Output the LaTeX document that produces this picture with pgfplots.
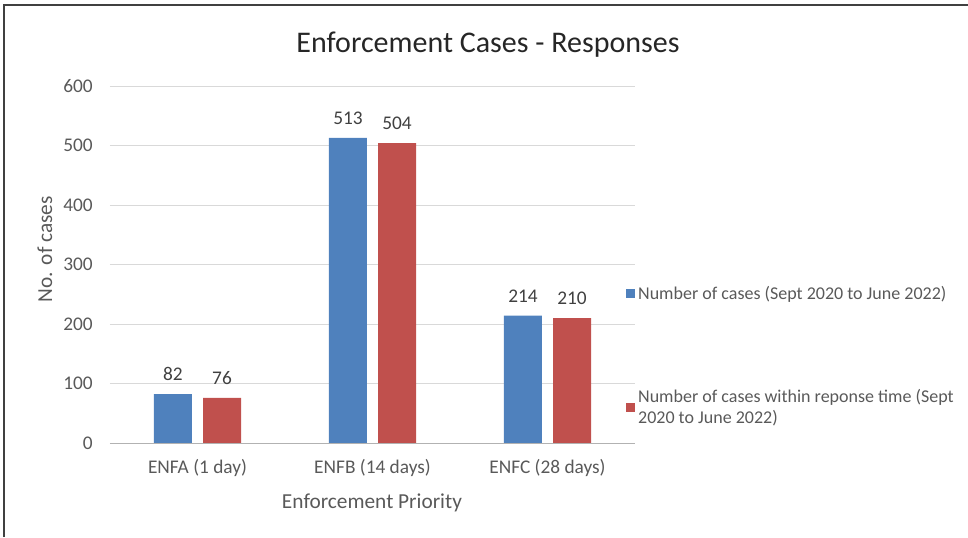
\documentclass[border=0pt]{standalone}
\usepackage{pgfplots}
\pgfplotsset{compat=1.18}
\usepackage{fontspec}
\setmainfont{Carlito}

\definecolor{barblue}{HTML}{4F81BD}
\definecolor{barred}{HTML}{C0504D}
\definecolor{gridgray}{HTML}{D9D9D9}
\definecolor{txtgray}{HTML}{595959}
\definecolor{lblgray}{HTML}{404040}

\pgfplotsset{sqlegend/.style={legend image code/.code={\fill[##1] (0pt,-3.5pt) rectangle (7pt,3.5pt);}}}

\begin{document}
\begin{tikzpicture}
\useasboundingbox (0,0) rectangle (726pt,402.75pt);
% frame of the chart area (left and top edges only)
\draw[line width=1.5pt, black!75] (3.3pt,0) -- (3.3pt,399pt) -- (726pt,399pt);
\node[font=\fontsize{22.5}{26}\selectfont, text=black!85] at (366pt,369pt) {Enforcement Cases - Responses};
\begin{axis}[
  at={(82.5pt,70.5pt)}, anchor=south west,
  scale only axis, width=393.75pt, height=267.75pt,
  ybar,
  xmin=-0.5, xmax=2.5, ymin=0, ymax=600,
  ytick={0,100,...,600},
  xtick={0,1,2},
  xticklabels={ENFA (1 day), ENFB (14 days), ENFC (28 days)},
  /pgf/number format/assume math mode=true,
  major tick length=0pt,
  axis line style={draw=none},
  ymajorgrids, grid style={gridgray, line width=0.75pt},
  ticklabel style={font=\fontsize{14.5}{16}\selectfont, text=txtgray},
  yticklabel style={inner sep=0pt, xshift=-12.75pt},
  xticklabel style={inner sep=0pt, anchor=north, yshift=-12pt},
  xlabel={Enforcement Priority},
  ylabel={No. of cases},
  label style={font=\fontsize{16}{18}\selectfont, text=txtgray},
  xlabel style={at={(axis description cs:0.499,-0.168)}, anchor=center},
  ylabel style={at={(axis description cs:-0.124,0.543)}, anchor=center},
  nodes near coords,
  every node near coord/.append style={font=\fontsize{14.5}{16}\selectfont, text=lblgray, inner sep=0pt, anchor=south, yshift=10pt},
  legend cell align=left,
  legend style={draw=none, fill=none, at={(axis description cs:0.975,0.455)}, anchor=north west,
    row sep=62pt, font=\fontsize{13.5}{16}\selectfont, text=txtgray, cells={align=left}},
]
\addplot[fill=barblue, draw=none, bar width=28.5pt, bar shift=-18.4pt, sqlegend]
  coordinates {(0,82) (1,513) (2,214)};
\addplot[fill=barred, draw=none, bar width=28.5pt, bar shift=18.4pt, sqlegend]
  coordinates {(0,76) (1,504) (2,210)};
\draw[gray!60, line width=0.75pt] (rel axis cs:0,0) -- (rel axis cs:1,0);
\legend{Number of cases (Sept 2020 to June 2022), {Number of cases within reponse time (Sept\\2020 to June 2022)}}
\end{axis}
\end{tikzpicture}
\end{document}
